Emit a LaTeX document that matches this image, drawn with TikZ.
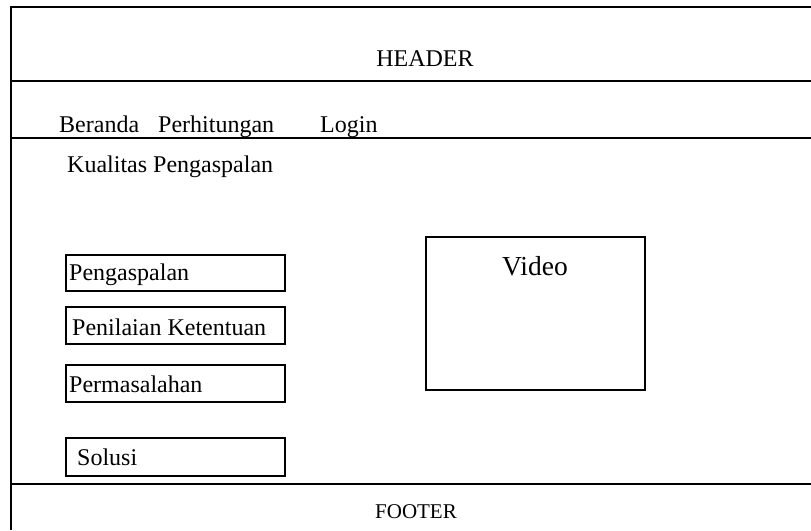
\documentclass[tikz,border=0pt]{standalone}
\usepackage{fontspec}
\setmainfont{Liberation Serif}
\begin{document}
\begin{tikzpicture}[x=1pt,y=-1pt,
  frame/.style={line width=1.2pt},
  box/.style={draw, line width=1.6pt, minimum width=219pt, anchor=north west, inner sep=0pt},
  lbl/.style={font=\fontsize{24}{28}\selectfont, inner sep=0pt, anchor=base west},
  biglbl/.style={font=\fontsize{27.5}{31}\selectfont, inner sep=0pt, anchor=base},
  smalllbl/.style={font=\fontsize{21}{25}\selectfont, inner sep=0pt, anchor=base}]
\useasboundingbox (0,0) rectangle (811,530);
% frame
\coordinate (tl) at (11,7);
\coordinate (tr) at (811,7);
\coordinate (bl) at (11,530);
\coordinate (h1l) at (11,81);
\coordinate (h1r) at (811,81);
\coordinate (h2l) at (11,138);
\coordinate (h2r) at (811,138);
\coordinate (fl) at (11,484);
\coordinate (fr) at (811,484);
\draw[frame] (tr) -- (tl) -- (bl);
\draw[frame] (h1l) -- (h1r);
\draw[frame] (h2l) -- (h2r);
\draw[frame] (fl) -- (fr);
% header / nav
\node[lbl, anchor=base] (header) at (425,66) {HEADER};
\node[lbl] (beranda) at (59,132) {Beranda};
\node[lbl] (hitung) at (158,132) {Perhitungan};
\node[lbl] (login) at (320,132) {Login};
\node[lbl] (kualitas) at (67,172) {Kualitas Pengaspalan};
% menu boxes
\node[box, minimum height=36pt] (b1) at (65,254) {};
\node[lbl] (t1) at (69,280) {Pengaspalan};
\node[box, minimum height=37pt] (b2) at (65,306) {};
\node[lbl] (t2) at (72,335) {Penilaian Ketentuan};
\node[box, minimum height=37pt] (b3) at (65,364) {};
\node[lbl] (t3) at (69,392) {Permasalahan};
\node[box, minimum height=38pt] (b4) at (65,437) {};
\node[lbl] (t4) at (77,465) {Solusi};
% video
\node[box, minimum height=153pt] (video) at (425,236) {};
\node[biglbl] (vtxt) at (535,275) {Video};
% footer
\node[smalllbl] (footer) at (416,518) {FOOTER};
\end{tikzpicture}
\end{document}
